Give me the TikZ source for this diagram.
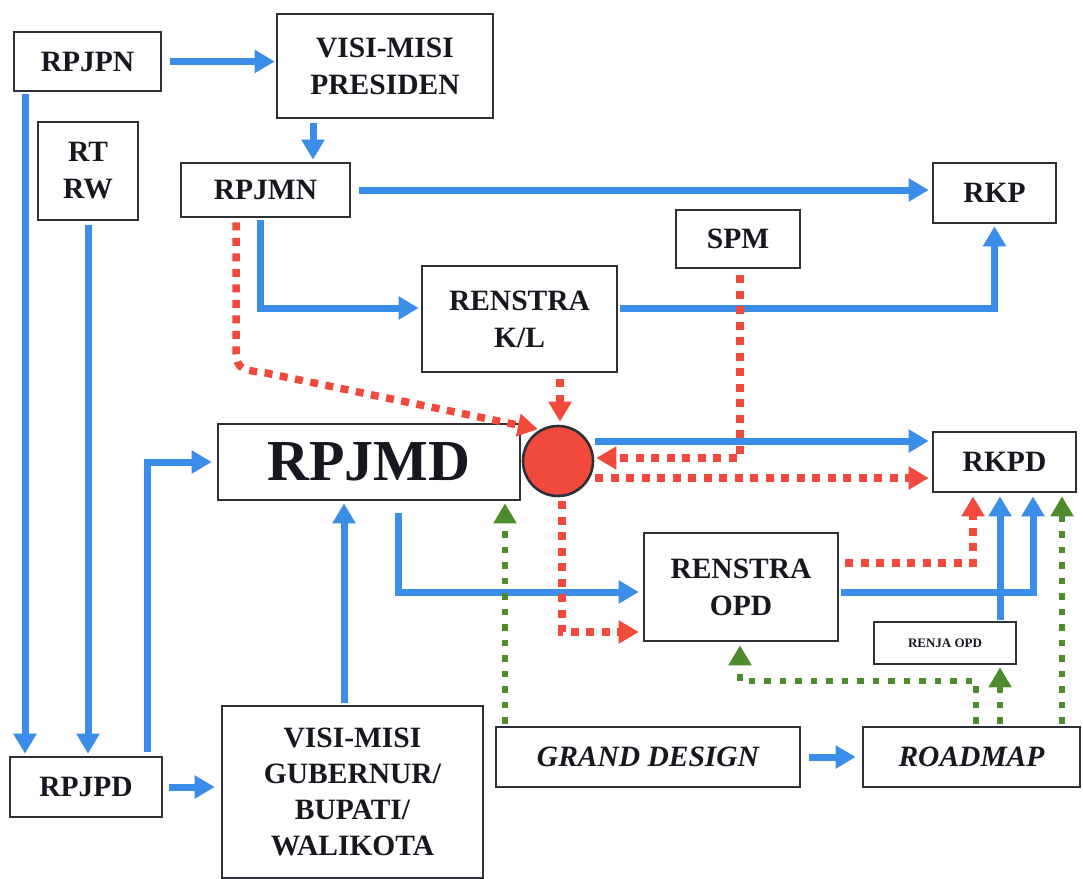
\documentclass[tikz,border=0pt]{standalone}
\usepackage{fontspec}
\setmainfont{Liberation Serif}
\usetikzlibrary{arrows.meta}
\definecolor{bl}{HTML}{3A8DE8}
\definecolor{rd}{HTML}{F2493D}
\definecolor{gr}{HTML}{4E8B2C}
\definecolor{bx}{HTML}{2E3038}
\definecolor{tx}{HTML}{16171F}
\begin{document}
\begin{tikzpicture}[x=1pt,y=-1pt,
  box/.style={draw=bx, line width=2.6pt, fill=white, inner sep=0pt, align=center, text=tx,
    font=\fontsize{29.5}{37}\selectfont\bfseries},
  tip/.style={-{Triangle[length=20pt,width=22pt]}},
  bline/.style={draw=bl, line width=7pt, tip},
  rline/.style={draw=rd, line width=7.5pt, dash pattern=on 8pt off 7.5pt, tip},
  gline/.style={draw=gr, line width=6pt, dash pattern=on 6.5pt off 9pt, tip}
]
\useasboundingbox[fill=white] (0,0) rectangle (1083,878);

% boxes
\node[box, minimum width=147pt, minimum height=59pt] (rpjpn) at (87.5,61.5) {RPJPN};
\node[box, minimum width=216pt, minimum height=104pt] (vmp) at (385,66) {VISI-MISI\\PRESIDEN};
\node[box, minimum width=100pt, minimum height=98pt] (rtrw) at (88,171) {RT\\RW};
\node[box, minimum width=169pt, minimum height=54pt] (rpjmn) at (265.5,190) {RPJMN};
\node[box, minimum width=123pt, minimum height=60pt] (rkp) at (994.5,193) {RKP};
\node[box, minimum width=124pt, minimum height=58pt] (spm) at (738,239) {SPM};
\node[box, minimum width=195pt, minimum height=106pt] (rkl) at (519.5,319) {RENSTRA\\K/L};
\node[box, minimum width=302pt, minimum height=76pt, font=\fontsize{58}{68}\selectfont\bfseries] (rpjmd) at (369,462) {RPJMD};
\node[draw=bx, line width=2.6pt, fill=rd, circle, minimum size=70pt, inner sep=0pt] (circ) at (558,461) {};
\node[box, minimum width=143pt, minimum height=60pt] (rkpd) at (1004.5,462) {RKPD};
\node[box, minimum width=194pt, minimum height=108pt] (ropd) at (741,587) {RENSTRA\\OPD};
\node[box, minimum width=142pt, minimum height=42pt, font=\fontsize{13}{15}\selectfont\bfseries] (renja) at (945,643) {RENJA OPD};
\node[box, minimum width=152pt, minimum height=60pt] (rpjpd) at (86,787) {RPJPD};
\node[box, minimum width=261pt, minimum height=172pt, font=\fontsize{29.5}{36}\selectfont\bfseries] (vmg) at (352.5,792) {VISI-MISI\\GUBERNUR/\\BUPATI/\\WALIKOTA};
\node[box, minimum width=304pt, minimum height=60pt, font=\fontsize{29.5}{37}\selectfont\bfseries\itshape] (gd) at (648,757) {GRAND DESIGN};
\node[box, minimum width=217pt, minimum height=60pt, font=\fontsize{29.5}{37}\selectfont\bfseries\itshape] (rm) at (971.5,757) {ROADMAP};

% helper coordinates
\coordinate (c1) at (313,0);
\coordinate (c2) at (260,0);
\coordinate (c3) at (25,0);
\coordinate (c4) at (147,0);
\coordinate (c5) at (344,0);
\coordinate (c6) at (398,0);
\coordinate (c7) at (1033,0);
\coordinate (c8) at (1000,0);
\coordinate (c9) at (236,0);
\coordinate (c10) at (560,0);
\coordinate (c11) at (562,0);
\coordinate (c12) at (973,0);
\coordinate (c13) at (505,0);
\coordinate (c14) at (976,0);
\coordinate (c15) at (740,0);
\coordinate (c16) at (1000,0);
\coordinate (c17) at (1062,0);
\coordinate (y1) at (0,308);
\coordinate (y2) at (0,441);
\coordinate (y3) at (0,592);
\coordinate (y4) at (0,458);
\coordinate (y5) at (0,478);
\coordinate (y6) at (0,632);
\coordinate (y7) at (0,563);
\coordinate (y8) at (0,681);
\coordinate (k0) at (236,340);
\coordinate (kc) at (236,369);
\coordinate (k2) at (266,373);

% blue connectors
\draw[bline, shorten <=8pt, shorten >=1pt] (rpjpn.east) -- (rpjpn.east -| vmp.west);
\draw[bline, shorten <=4pt, shorten >=2pt] (vmp.south -| c1) -- (rpjmn.north -| c1);
\draw[bline, shorten <=8pt, shorten >=3pt] (rpjmn.east) -- (rpjmn.east -| rkp.west);
\draw[bline, shorten <=2pt, shorten >=2pt] (rpjmn.south -| c2) |- (rkl.west |- y1);
\draw[bline, shorten <=2pt, shorten >=2pt] (rkl.east |- y1) -| (rkp.south);
\draw[bline, shorten <=2pt, shorten >=2pt] (rpjpn.south -| c3) -- (rpjpd.north -| c3);
\draw[bline, shorten <=4pt, shorten >=2pt] (rtrw.south) -- (rtrw.south |- rpjpd.north);
\draw[bline, shorten <=4pt, shorten >=5pt] (rpjpd.north -| c4) |- (rpjmd.west);
\draw[bline, shorten <=6pt, shorten >=6pt] (rpjpd.east) -- (rpjpd.east -| vmg.west);
\draw[bline, shorten <=2pt, shorten >=2pt] (vmg.north -| c5) -- (rpjmd.south -| c5);
\draw[bline, shorten <=12pt, shorten >=4pt] (rpjmd.south -| c6) |- (ropd.west |- y3);
\draw[bline, shorten <=1pt, shorten >=3pt] (circ.east |- y2) -- (rkpd.west |- y2);
\draw[bline, shorten <=2pt, shorten >=3pt] (ropd.east |- y3) -| (rkpd.south -| c7);
\draw[bline, shorten <=1pt, shorten >=3pt] (renja.north -| c8) -- (rkpd.south -| c8);
\draw[bline, shorten <=8pt, shorten >=6pt] (gd.east) -- (rm.west);

% red dotted connectors
\draw[rline, shorten <=4pt, shorten >=2pt] (rpjmn.south -| c9) -- (k0) .. controls (kc) .. (k2) -- (circ.120);
\draw[rline, shorten <=6pt, shorten >=3pt] (rkl.south -| c10) -- (circ.north -| c10);
\draw[rline, shorten <=6pt, shorten >=2pt] (spm.south -| c15) |- (circ.east |- y4);
\draw[rline, shorten <=1pt, shorten >=3pt] (circ.east |- y5) -- (rkpd.west |- y5);
\draw[rline, shorten <=4pt, shorten >=4pt] (circ.south -| c11) |- (ropd.west |- y6);
\draw[rline, shorten <=6pt, shorten >=3pt] (ropd.east |- y7) -| (rkpd.south -| c12);

% green dotted connectors
\draw[gline, shorten <=2pt, shorten >=2pt] (gd.north -| c13) -- (rpjmd.south -| c13);
\draw[gline, shorten <=2pt, shorten >=3pt] (rm.north -| c14) -- (c14 |- y8) -| (ropd.south -| c15);
\draw[gline, shorten <=2pt, shorten >=2pt] (rm.north -| c16) -- (renja.south -| c16);
\draw[gline, shorten <=2pt, shorten >=3pt] (rm.north -| c17) -- (rkpd.south -| c17);
\end{tikzpicture}
\end{document}
